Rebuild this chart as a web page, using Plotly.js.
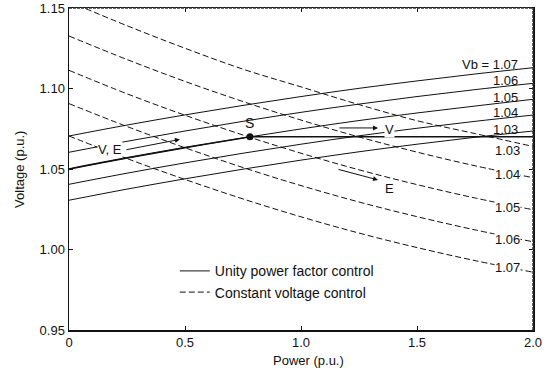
<!DOCTYPE html>
<html>
<head>
<meta charset="utf-8">
<script src="https://cdn.plot.ly/plotly-3.0.1.min.js"></script>
<style>
  html, body { margin: 0; padding: 0; background: #fff; }
  #chart { width: 549px; height: 371px; }
</style>
</head>
<body>
<div id="chart"></div>
<script>
// Generator output power (p.u.) sampled along each curve
const power = [0, 0.25, 0.5, 0.75, 1.0, 1.25, 1.5, 1.75, 2.0];

// Terminal voltage under unity power factor control, one curve per busbar voltage Vb
const unityVb107 = [1.0705, 1.0773, 1.0836, 1.0895, 1.0950, 1.1001, 1.1047, 1.1090, 1.1129];
const unityVb106 = [1.0604, 1.0672, 1.0736, 1.0796, 1.0852, 1.0903, 1.0950, 1.0993, 1.1032];
const unityVb105 = [1.0500, 1.0569, 1.0633, 1.0693, 1.0749, 1.0801, 1.0848, 1.0891, 1.0933];
const unityVb104 = [1.0405, 1.0474, 1.0538, 1.0598, 1.0654, 1.0706, 1.0753, 1.0796, 1.0835];
const unityVb103 = [1.0306, 1.0375, 1.0439, 1.0499, 1.0555, 1.0607, 1.0654, 1.0697, 1.0736];

// Terminal voltage under constant voltage control
const constVb103 = [1.1540, 1.1390, 1.1250, 1.1120, 1.1010, 1.0900, 1.0800, 1.0720, 1.0640];
const constVb104 = [1.1326, 1.1180, 1.1044, 1.0919, 1.0804, 1.0699, 1.0605, 1.0520, 1.0446];
const constVb105 = [1.1113, 1.0967, 1.0834, 1.0711, 1.0598, 1.0495, 1.0403, 1.0320, 1.0247];
const constVb106 = [1.0906, 1.0764, 1.0632, 1.0509, 1.0397, 1.0295, 1.0204, 1.0122, 1.0048];
const constVb107 = [1.0705, 1.0565, 1.0435, 1.0314, 1.0203, 1.0102, 1.0012, 0.9931, 0.9859];

// Operating trajectory: rise along Vb = 1.05 to point S, then held at 1.07
const risePower = [0, 0.25, 0.5, 0.75, 0.78];
const riseVolt  = [1.0500, 1.0569, 1.0633, 1.0693, 1.0700];
const holdPower = [0.78, 2.0];
const holdVolt  = [1.07, 1.07];
const pointS = { p: 0.78, v: 1.07 };

// Axis ticks
const xTickVals = [0, 0.5, 1.0, 1.5, 2.0];
const xTickText = ['0', '0.5', '1.0', '1.5', '2.0'];
const yTickVals = [0.95, 1.00, 1.05, 1.10, 1.15];
const yTickText = ['0.95', '1.00', '1.05', '1.10', '1.15'];

// Curve labels
const unityLabels = ['Vb = 1.07', '1.06', '1.05', '1.04', '1.03'];
const unityLabelV = [1.1152, 1.1047, 1.0947, 1.0848, 1.0746];
const constLabels = ['1.03', '1.04', '1.05', '1.06', '1.07'];
const constLabelV = [1.0612, 1.0463, 1.0264, 1.0065, 0.9891];

const FONT = 'Liberation Sans, Arial, Helvetica, sans-serif';
const INK = '#111';

const unitySeries = [unityVb107, unityVb106, unityVb105, unityVb104, unityVb103];
const constSeries = [constVb103, constVb104, constVb105, constVb106, constVb107];

const traces = [];
unitySeries.forEach((v, i) => traces.push({
  x: power, y: v, type: 'scatter', mode: 'lines',
  line: { color: INK, width: 1, shape: 'spline' },
  name: 'Unity power factor control', legendgroup: 'u',
  showlegend: i === 0, hoverinfo: 'skip'
}));
constSeries.forEach((v, i) => traces.push({
  x: power, y: v, type: 'scatter', mode: 'lines',
  line: { color: INK, width: 1, shape: 'spline', dash: '6px,3px' },
  name: 'Constant voltage control', legendgroup: 'c',
  showlegend: i === 0, hoverinfo: 'skip'
}));
traces.push({
  x: risePower, y: riseVolt, type: 'scatter', mode: 'lines',
  line: { color: INK, width: 1.6, shape: 'spline' }, showlegend: false, hoverinfo: 'skip'
});
traces.push({
  x: holdPower, y: holdVolt, type: 'scatter', mode: 'lines',
  line: { color: INK, width: 1.6 }, showlegend: false, hoverinfo: 'skip'
});
traces.push({
  x: [pointS.p], y: [pointS.v], type: 'scatter', mode: 'markers',
  marker: { color: INK, size: 7 }, showlegend: false, hoverinfo: 'skip'
});

const annotations = [];
unityLabels.forEach((t, i) => annotations.push({
  x: 1.946, y: unityLabelV[i], xref: 'x', yref: 'y', text: t,
  showarrow: false, xanchor: 'right', yanchor: 'middle',
  font: { family: FONT, size: 13, color: INK }
}));
constLabels.forEach((t, i) => annotations.push({
  x: 1.890, y: constLabelV[i], xref: 'x', yref: 'y', text: t,
  showarrow: false, xanchor: 'center', yanchor: 'middle',
  bgcolor: i === 0 ? 'rgba(0,0,0,0)' : '#fff', borderpad: 0,
  font: { family: FONT, size: 13, color: INK }
}));
// Point and direction labels
annotations.push(
  { x: 0.175, y: 1.0624, text: 'V, E', showarrow: false, bgcolor: '#fff', borderpad: 0,
    font: { family: FONT, size: 13, color: INK } },
  { x: 1.381, y: 1.0748, text: 'V', showarrow: false, bgcolor: '#fff', borderpad: 0,
    font: { family: FONT, size: 13, color: INK } },
  { x: 1.381, y: 1.0382, text: 'E', showarrow: false,
    font: { family: FONT, size: 13, color: INK } },
  { x: 0.780, y: 1.0786, text: 'S', showarrow: false,
    font: { family: FONT, size: 14, color: INK } },
  // arrows
  { x: 0.478, y: 1.0684, ax: 0.241, ay: 1.0618, axref: 'x', ayref: 'y', text: '',
    showarrow: true, arrowhead: 2, arrowsize: 1, arrowwidth: 1, arrowcolor: INK },
  { x: 1.332, y: 1.0755, ax: 1.159, ay: 1.0755, axref: 'x', ayref: 'y', text: '',
    showarrow: true, arrowhead: 2, arrowsize: 1, arrowwidth: 1, arrowcolor: INK },
  { x: 1.332, y: 1.0432, ax: 1.155, ay: 1.0500, axref: 'x', ayref: 'y', text: '',
    showarrow: true, arrowhead: 2, arrowsize: 1, arrowwidth: 1, arrowcolor: INK },
  // axis titles
  { x: 0.517, y: -0.094, xref: 'paper', yref: 'paper', text: 'Power (p.u.)',
    showarrow: false, xanchor: 'center', yanchor: 'middle',
    font: { family: FONT, size: 13, color: INK } },
  { x: -0.108, y: 0.5, xref: 'paper', yref: 'paper', text: 'Voltage (p.u.)',
    showarrow: false, textangle: -90, xanchor: 'center', yanchor: 'middle',
    font: { family: FONT, size: 13, color: INK } }
);

const layout = {
  width: 549, height: 371,
  margin: { l: 69, r: 16, t: 8, b: 41 },
  paper_bgcolor: '#fff', plot_bgcolor: '#fff',
  font: { family: FONT, size: 13, color: INK },
  showlegend: true,
  legend: {
    x: 0.228, y: 0.232, xanchor: 'left', yanchor: 'top',
    bgcolor: 'rgba(0,0,0,0)', borderwidth: 0,
    font: { family: FONT, size: 14, color: INK },
    tracegroupgap: 0
  },
  xaxis: {
    range: [0, 2], tickvals: xTickVals, ticktext: xTickText,
    ticks: 'inside', ticklen: 4, tickcolor: INK, tickwidth: 1,
    showline: true, linecolor: INK, linewidth: 1.5, mirror: 'ticks',
    showgrid: false, zeroline: false, fixedrange: true,
    tickfont: { family: FONT, size: 13, color: INK }
  },
  yaxis: {
    range: [0.95, 1.15], tickvals: yTickVals, ticktext: yTickText,
    ticks: 'inside', ticklen: 4, tickcolor: INK, tickwidth: 1,
    showline: true, linecolor: INK, linewidth: 1.5, mirror: 'ticks',
    showgrid: false, zeroline: false, fixedrange: true,
    tickfont: { family: FONT, size: 13, color: INK }
  },
  shapes: [
    { type: 'line', xref: 'paper', yref: 'paper', x0: 0, x1: 1, y0: 1, y1: 1,
      line: { color: '#333', width: 1.5, dash: '3px,1px' } },
    { type: 'line', xref: 'paper', yref: 'paper', x0: 1, x1: 1, y0: 0, y1: 1,
      line: { color: '#333', width: 1.5, dash: '3px,1px' } }
  ],
  annotations: annotations
};

Plotly.newPlot('chart', traces, layout, { staticPlot: true, displayModeBar: false });
</script>
</body>
</html>
